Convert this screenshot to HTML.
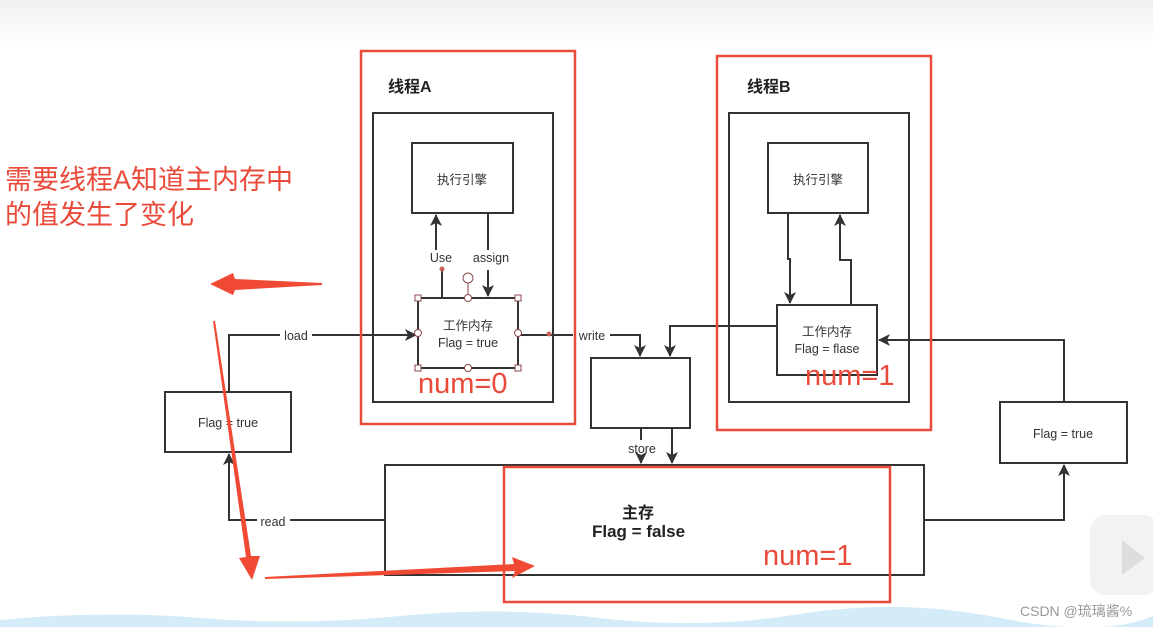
<!DOCTYPE html>
<html><head><meta charset="utf-8"><style>
html,body{margin:0;padding:0;background:#fff;width:1153px;height:627px;overflow:hidden}
svg{display:block}
text{font-family:"Liberation Sans","Noto Sans CJK SC",sans-serif}
</style></head><body>
<svg width="1153" height="627" viewBox="0 0 1153 627" xmlns="http://www.w3.org/2000/svg">
<defs>
<linearGradient id="tg" x1="0" y1="0" x2="0" y2="1"><stop offset="0" stop-color="#f0f0f0"/><stop offset="1" stop-color="#fff"/></linearGradient>
<marker id="ah" markerWidth="12" markerHeight="12" refX="11" refY="6" orient="auto" markerUnits="userSpaceOnUse"><path d="M0,0 L12,6 L0,12 L3,6 z" fill="#333"/></marker>
</defs>
<rect x="0" y="0" width="1153" height="45" fill="url(#tg)"/>
<path d="M0,620 Q100,610 200,618 T400,616 T600,618 T800,614 T1000,618 T1153,616 L1153,627 L0,627 z" fill="#d4ecf7"/>

<g fill="none" stroke="#333" stroke-width="2">
<rect x="373" y="113" width="180" height="289"/>
<rect x="412" y="143" width="101" height="70"/>
<rect x="418" y="298" width="100" height="70"/>
<rect x="729" y="113" width="180" height="289"/>
<rect x="768" y="143" width="100" height="70"/>
<rect x="777" y="305" width="100" height="70"/>
<rect x="165" y="392" width="126" height="60"/>
<rect x="1000" y="402" width="127" height="61"/>
<rect x="591" y="358" width="99" height="70"/>
<rect x="385" y="465" width="539" height="110"/>
<path d="M442,270 L442,298"/>
<path d="M436,250 L436,215" marker-end="url(#ah)"/>
<path d="M488,213 L488,250"/>
<path d="M488,270 L488,296" marker-end="url(#ah)"/>
<path d="M788,213 L788,259 L790,259 L790,303" marker-end="url(#ah)"/>
<path d="M851,305 L851,260 L840,260 L840,215" marker-end="url(#ah)"/>
<path d="M229,392 L229,335 L280,335"/>
<path d="M312,335 L416,335" marker-end="url(#ah)"/>
<path d="M518,335 L573,335"/>
<path d="M610,335 L640,335 L640,356" marker-end="url(#ah)"/>
<path d="M777,326 L670,326 L670,356" marker-end="url(#ah)"/>
<path d="M641,428 L641,440"/>
<path d="M641,456 L641,463" marker-end="url(#ah)"/>
<path d="M672,428 L672,463" marker-end="url(#ah)"/>
<path d="M385,520 L290,520"/>
<path d="M257,520 L229,520 L229,454" marker-end="url(#ah)"/>
<path d="M924,520 L1064,520 L1064,465" marker-end="url(#ah)"/>
<path d="M1064,402 L1064,340 L879,340" marker-end="url(#ah)"/>
</g>

<g fill="#fff" stroke="#8a4a4a" stroke-width="1">
<line x1="468" y1="283" x2="468" y2="298"/>
<circle cx="468" cy="278" r="5"/>
<rect x="415" y="295" width="6" height="6"/><rect x="515" y="295" width="6" height="6"/>
<rect x="415" y="365" width="6" height="6"/><rect x="515" y="365" width="6" height="6"/>
<circle cx="468" cy="298" r="3.5"/><circle cx="468" cy="368" r="3.5"/>
<circle cx="418" cy="333" r="3.5"/><circle cx="518" cy="333" r="3.5"/>
</g>
<circle cx="442" cy="269" r="2.5" fill="#c9605a"/>
<circle cx="549" cy="334" r="2.5" fill="#c9605a"/>

<g fill="none" stroke="#ea4a3a" stroke-width="2.5">
<rect x="361" y="51" width="214" height="373"/>
<rect x="717" y="56" width="214" height="374"/>
<rect x="504" y="467" width="386" height="135"/>
</g>

<g fill="#333" font-size="12.5" text-anchor="middle">
<text x="462" y="184">执行引擎</text>
<text x="818" y="184">执行引擎</text>
<text x="468" y="330">工作内存</text>
<text x="468" y="347">Flag = true</text>
<text x="827" y="336">工作内存</text>
<text x="827" y="353">Flag = flase</text>
<text x="228" y="427">Flag = true</text>
<text x="1063" y="438">Flag = true</text>
<text x="441" y="262">Use</text>
<text x="491" y="262">assign</text>
<text x="296" y="340">load</text>
<text x="592" y="340">write</text>
<text x="642" y="453">store</text>
<text x="273" y="526">read</text>
</g>
<g fill="#222" font-size="16" font-weight="bold">
<text x="388" y="92">线程A</text>
<text x="747" y="92">线程B</text>
<text x="622" y="518">主存</text>
<text x="592" y="537" font-size="17">Flag = false</text>
</g>
<g fill="#ea4a3a" font-size="29">
<text x="418" y="393">num=0</text>
<text x="805" y="385">num=1</text>
<text x="763" y="565">num=1</text>
</g>
<g fill="#ea4a3a" font-size="27">
<text x="5" y="189">需要线程A知道主内存中</text>
<text x="5" y="224">的值发生了变化</text>
</g>

<g fill="#f04a35">
<path d="M322,283 L322,285 L235,290 L233,295 L210,284 L233,273 L235,279 z"/>
<path d="M213,321 L215,321 L251,556 L260,556 L252,580 L239,558 L246,557 z"/>
<path d="M265,577 L265,579 L515,571 L512,578 L535,566 L512,557 L514,564 z"/>
</g>

<text x="1020" y="616" fill="#999" font-size="14">CSDN @琉璃酱%</text>
<rect x="1090" y="515" width="70" height="80" rx="16" fill="#f2f2f2"/>
<path d="M1122,540 L1122,575 L1145,558 z" fill="#ddd"/>
</svg>
</body></html>
